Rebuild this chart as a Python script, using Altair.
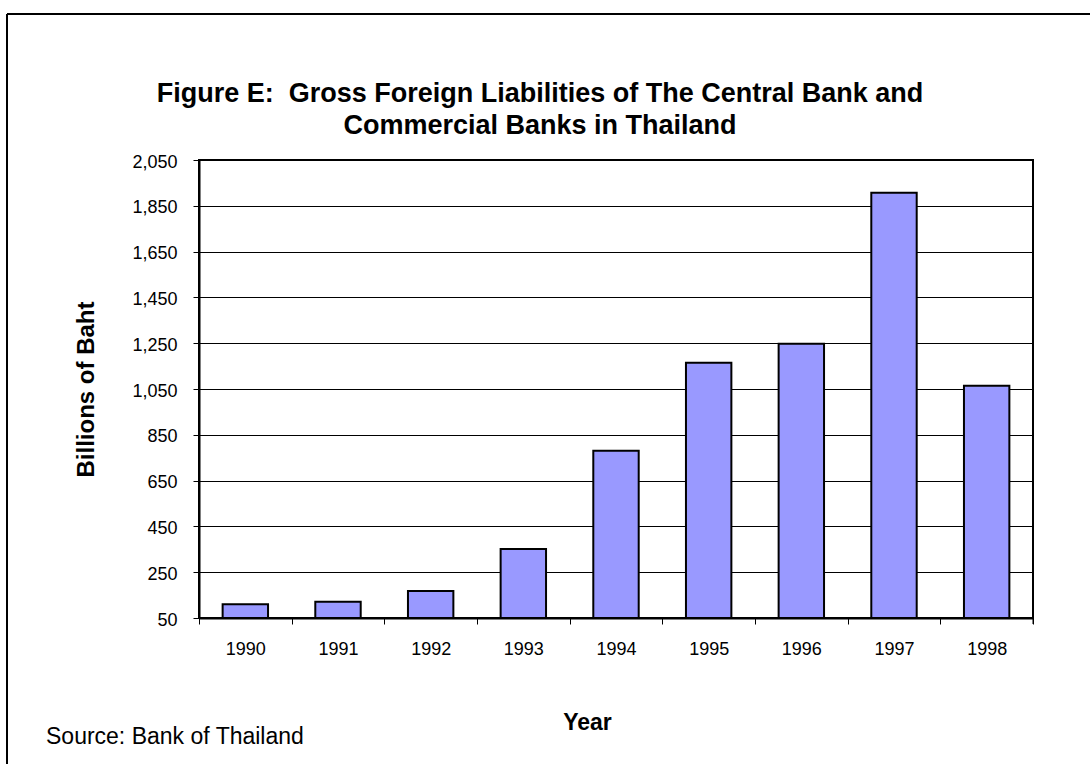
import altair as alt
import pandas as pd

years = ["1990", "1991", "1992", "1993", "1994", "1995", "1996", "1997", "1998"]
liabilities = [110, 121, 168, 351, 780, 1165, 1248, 1907, 1064]
y_ticks = [50, 250, 450, 650, 850, 1050, 1250, 1450, 1650, 1850, 2050]

title_line1 = "Figure E:\u00a0 Gross Foreign Liabilities of The Central Bank and"
title_line2 = "Commercial Banks in Thailand"
source_text = "Source: Bank of Thailand"

FONT = "Liberation Sans"
W, H = 834, 458

df = pd.DataFrame({"Year": years, "Value": liabilities})

x_enc = alt.X(
    "Year:N",
    sort=years,
    scale=alt.Scale(paddingInner=0, paddingOuter=0),
    axis=alt.Axis(
        title="Year",
        labelAngle=0,
        labelFont=FONT,
        labelFontSize=18,
        labelColor="black",
        labelPadding=16,
        tickBand="extent",
        tickSize=6,
        tickColor="black",
        tickWidth=1,
        domainColor="black",
        domainWidth=2,
        grid=False,
        titleFont=FONT,
        titleFontSize=23,
        titleFontWeight="bold",
        titleColor="black",
        titleX=388,
        titleY=111,
        titleAlign="center",
        titleBaseline="alphabetic",
    ),
)

y_enc = alt.Y(
    "Value:Q",
    scale=alt.Scale(domain=[50, 2050], zero=False, nice=False),
    axis=alt.Axis(
        title="Billions of Baht",
        values=y_ticks,
        format=",d",
        labelFont=FONT,
        labelFontSize=18,
        labelColor="black",
        labelPadding=16,
        labelOffset=2,
        tickSize=6,
        tickColor="black",
        tickWidth=1,
        domainColor="black",
        domainWidth=2,
        grid=True,
        gridColor="black",
        gridWidth=1,
        titleFont=FONT,
        titleFontSize=24,
        titleFontWeight="bold",
        titleColor="black",
        titleAngle=270,
        titleX=-106,
        titleY=229,
        titleAlign="center",
        titleBaseline="alphabetic",
    ),
)

bars = alt.Chart(df).mark_bar(
    width=alt.RelativeBandSize(0.49),
    color="#9999FF",
    stroke="black",
    strokeWidth=2,
).encode(x=x_enc, y=y_enc, y2=alt.datum(50))

one = pd.DataFrame({"t1": [title_line1], "t2": [title_line2], "s": [source_text]})
base = alt.Chart(one)

t1 = base.mark_text(font=FONT, fontSize=27, fontWeight="bold", color="black",
                    align="center", baseline="alphabetic").encode(
    text="t1:N", x=alt.value(341), y=alt.value(-58))
t2 = base.mark_text(font=FONT, fontSize=27, fontWeight="bold", color="black",
                    align="center", baseline="alphabetic").encode(
    text="t2:N", x=alt.value(341), y=alt.value(-26))
src = base.mark_text(font=FONT, fontSize=23, color="black",
                     align="left", baseline="alphabetic").encode(
    text="s:N", x=alt.value(-153), y=alt.value(584))

# last tick at the right end of the x axis
end_tick = base.mark_rule(color="black", strokeWidth=1).encode(
    x=alt.value(W), y=alt.value(H), y2=alt.value(H + 6))

# outer chart-area frame
frame_left = base.mark_rule(color="black", strokeWidth=2).encode(
    x=alt.value(-192), y=alt.value(-146), y2=alt.value(700))
frame_top = base.mark_rule(color="black", strokeWidth=2).encode(
    x=alt.value(-192), x2=alt.value(1000), y=alt.value(-146))

chart = alt.layer(bars, t1, t2, src, end_tick, frame_left, frame_top).properties(
    width=W,
    height=H,
    padding={"left": 199, "top": 160, "right": 57, "bottom": 146},
    autosize=alt.AutoSizeParams(type="none"),
    background="white",
).configure_view(stroke="black", strokeWidth=2)

chart.save("out.html", embed_options={"renderer": "svg", "actions": False})
